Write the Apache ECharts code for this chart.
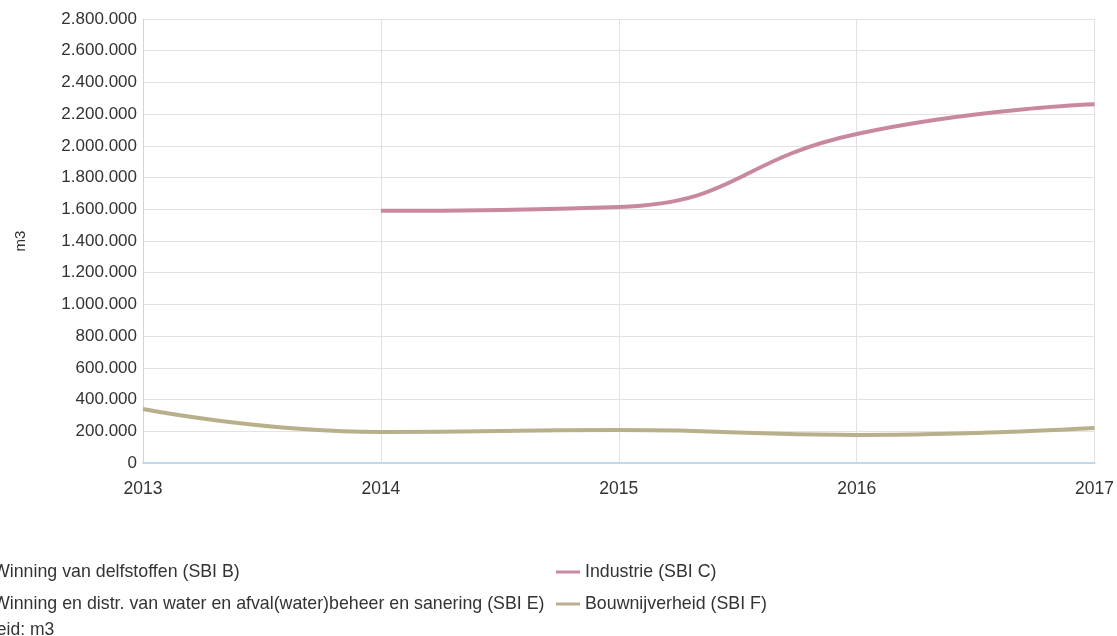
<!DOCTYPE html>
<html>
<head>
<meta charset="utf-8">
<script src="https://cdn.jsdelivr.net/npm/echarts@6/dist/echarts.min.js"></script>
<style>
  html, body { margin: 0; padding: 0; background: #fff; }
  #chart { width: 1117px; height: 636px; }
</style>
</head>
<body>
<div id="chart"></div>
<script>
// Years on the horizontal axis
const years = ['2013', '2014', '2015', '2016', '2017'];

// Volumes in m3 per sector
const winningDelfstoffen = [null, null, null, null, null];
const waterAfval = [null, null, null, null, null];
const industrie = [null, 1590000, 1615000, 2075000, 2262000];
const bouwnijverheid = [340000, 196000, 208000, 177000, 220000];

const seriesNames = [
  'Winning van delfstoffen (SBI B)',
  'Winning en distr. van water en afval(water)beheer en sanering (SBI E)',
  'Industrie (SBI C)',
  'Bouwnijverheid (SBI F)'
];

const unitText = 'Eenheid: m3';
const yAxisName = 'm3';

const FONT = 'Arial, "Liberation Sans", sans-serif';
const TEXT = '#333333';

function fmt(v) {
  return String(v).replace(/\B(?=(\d{3})+(?!\d))/g, '.');
}

const chart = echarts.init(document.getElementById('chart'), null, { renderer: 'canvas' });

function lineSeries(name, data, color) {
  return {
    name: name,
    type: 'line',
    data: data,
    smooth: 0.5,
    showSymbol: false,
    connectNulls: false,
    lineStyle: { color: color, width: 4 },
    itemStyle: { color: color },
    emphasis: { disabled: true }
  };
}

const legendBase = {
  orient: 'vertical',
  top: 558,
  itemWidth: 24,
  itemHeight: 3,
  itemGap: 14,
  icon: 'rect',
  textStyle: { fontFamily: FONT, fontSize: 17.8, color: TEXT, lineHeight: 18 }
};

chart.setOption({
  animation: false,
  textStyle: { fontFamily: FONT },
  grid: { left: 143, right: 20, top: 19, bottom: 173, containLabel: false },
  xAxis: {
    type: 'category',
    data: years,
    boundaryGap: false,
    axisLine: { lineStyle: { color: '#c0d8ea', width: 2 } },
    axisTick: { show: false },
    axisLabel: { color: TEXT, fontSize: 17.5, fontFamily: FONT, margin: 17 },
    splitLine: { show: true, lineStyle: { color: '#e2e2e2', width: 1 } }
  },
  yAxis: {
    type: 'value',
    min: 0,
    max: 2800000,
    interval: 200000,
    name: yAxisName,
    nameLocation: 'middle',
    nameGap: 115,
    nameRotate: 90,
    nameTextStyle: { color: TEXT, fontSize: 15, fontFamily: FONT },
    axisLine: { show: true, lineStyle: { color: '#d4d4d4', width: 1 } },
    axisTick: { show: false },
    axisLabel: { color: TEXT, fontSize: 17, fontFamily: FONT, margin: 6, formatter: fmt },
    splitLine: { lineStyle: { color: '#e2e2e2', width: 1 } }
  },
  legend: [
    Object.assign({}, legendBase, { left: -41, data: [seriesNames[0], seriesNames[1]] }),
    Object.assign({}, legendBase, { left: 551, data: [seriesNames[2], seriesNames[3]] })
  ],
  graphic: [{
    type: 'text',
    x: -44,
    y: 630,
    style: { text: unitText, font: '17.5px ' + FONT, fill: TEXT, textVerticalAlign: 'middle' }
  }],
  series: [
    lineSeries(seriesNames[0], winningDelfstoffen, '#8fa8c8'),
    lineSeries(seriesNames[1], waterAfval, '#7fb08a'),
    lineSeries(seriesNames[2], industrie, '#c9899c'),
    lineSeries(seriesNames[3], bouwnijverheid, '#b8b08a')
  ]
});
</script>
</body>
</html>
